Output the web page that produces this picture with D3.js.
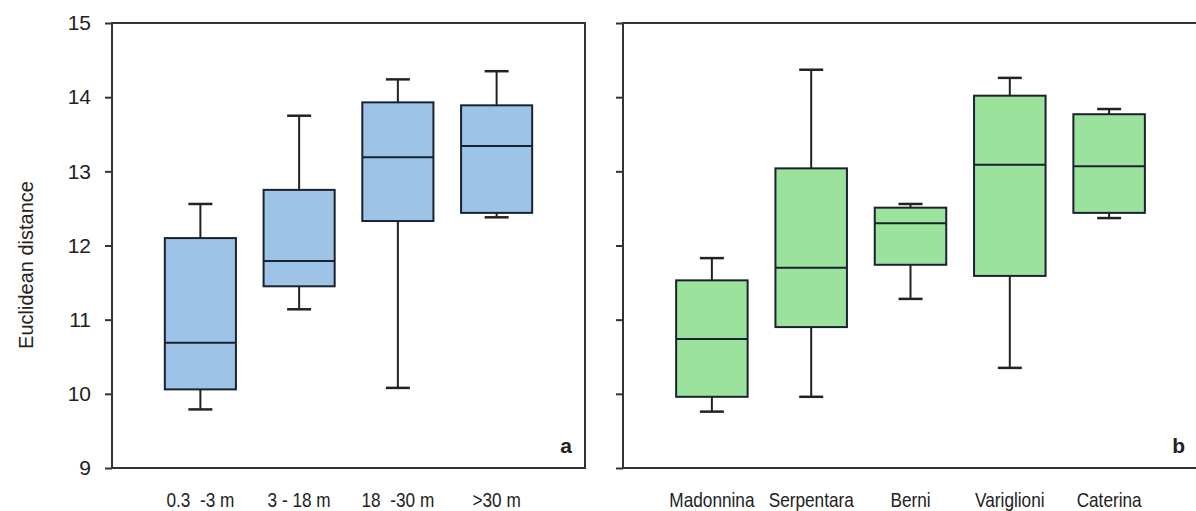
<!DOCTYPE html>
<html>
<head>
<meta charset="utf-8">
<script src="https://cdn.jsdelivr.net/npm/d3@7"></script>
<style>
  body { margin: 0; background: #fff; }
  svg { display: block; font-family: "Liberation Sans", Arial, sans-serif; }
  .cond { transform: scaleX(0.82); transform-box: fill-box; transform-origin: center; }
</style>
</head>
<body>
<svg width="1196" height="511"></svg>
<script>
// panel a: depth classes
var depthCats = ["0.3  -3 m", "3 - 18 m", "18  -30 m", ">30 m"];
var depthLow = [9.79, 11.14, 10.08, 12.38];
var depthQ1 = [10.06, 11.45, 12.33, 12.44];
var depthMed = [10.69, 11.79, 13.19, 13.34];
var depthQ3 = [12.10, 12.75, 13.93, 13.89];
var depthHigh = [12.56, 13.75, 14.24, 14.35];

// panel b: sites
var siteCats = ["Madonnina", "Serpentara", "Berni", "Variglioni", "Caterina"];
var siteLow = [9.76, 9.96, 11.28, 10.35, 12.37];
var siteQ1 = [9.96, 10.90, 11.74, 11.59, 12.44];
var siteMed = [10.74, 11.70, 12.30, 13.09, 13.07];
var siteQ3 = [11.53, 13.04, 12.51, 14.02, 13.77];
var siteHigh = [11.83, 14.37, 12.56, 14.26, 13.84];

var yTicks = [9, 10, 11, 12, 13, 14, 15];

var svg = d3.select('svg');
var plotTop = 23, plotBottom = 468;

var y = d3.scaleLinear().domain([9, 15]).range([plotBottom, plotTop]);

function panel(x0, x1, cats, low, q1, med, q3, high, fill, letter, showLabels) {
  var g = svg.append('g');
  var x = d3.scaleBand().domain(cats).range([x0, x1]).paddingInner(0.28).paddingOuter(0.535);

  var rows = cats.map(function (c, i) {
    return { cat: c, low: low[i], q1: q1[i], med: med[i], q3: q3[i], high: high[i] };
  });

  // y axis ticks
  var ya = g.append('g')
    .attr('transform', 'translate(' + x0 + ',0)')
    .call(d3.axisLeft(y).tickValues(yTicks).tickSize(7).tickPadding(14)
      .tickFormat(showLabels ? d3.format('d') : ''));
  ya.select('.domain').remove();
  ya.selectAll('line').attr('stroke', '#333').attr('stroke-width', 2);
  ya.selectAll('text').attr('font-size', 21).attr('fill', '#222');

  // x axis labels
  var xa = g.append('g')
    .attr('transform', 'translate(0,' + plotBottom + ')')
    .call(d3.axisBottom(x).tickSize(0).tickPadding(24));
  xa.select('.domain').remove();
  xa.selectAll('text').attr('font-size', 21).attr('fill', '#222')
    .attr('class', 'cond').style('white-space', 'pre');

  // frame
  g.append('path')
    .attr('d', 'M' + x0 + ',' + plotBottom + 'V' + plotTop + 'H' + x1 + 'V' + plotBottom + 'Z')
    .attr('fill', 'none').attr('stroke', '#333').attr('stroke-width', 2);

  var bw = x.bandwidth();
  var cap = 24;
  var box = g.selectAll('.box').data(rows).enter().append('g').attr('class', 'box');

  // whiskers
  box.append('line')
    .attr('x1', function (d) { return x(d.cat) + bw / 2; })
    .attr('x2', function (d) { return x(d.cat) + bw / 2; })
    .attr('y1', function (d) { return y(d.high); })
    .attr('y2', function (d) { return y(d.low); })
    .attr('stroke', '#222').attr('stroke-width', 2);
  ['high', 'low'].forEach(function (k) {
    box.append('line')
      .attr('x1', function (d) { return x(d.cat) + bw / 2 - cap / 2; })
      .attr('x2', function (d) { return x(d.cat) + bw / 2 + cap / 2; })
      .attr('y1', function (d) { return y(d[k]); })
      .attr('y2', function (d) { return y(d[k]); })
      .attr('stroke', '#222').attr('stroke-width', 2.5);
  });

  box.append('rect')
    .attr('x', function (d) { return x(d.cat); })
    .attr('width', bw)
    .attr('y', function (d) { return y(d.q3); })
    .attr('height', function (d) { return y(d.q1) - y(d.q3); })
    .attr('fill', fill).attr('stroke', '#1a2230').attr('stroke-width', 2);

  box.append('line')
    .attr('x1', function (d) { return x(d.cat); })
    .attr('x2', function (d) { return x(d.cat) + bw; })
    .attr('y1', function (d) { return y(d.med); })
    .attr('y2', function (d) { return y(d.med); })
    .attr('stroke', '#1a2230').attr('stroke-width', 2);

  g.append('text')
    .attr('x', x1 - 13).attr('y', 453)
    .attr('text-anchor', 'end')
    .attr('font-size', 21).attr('font-weight', 'bold').attr('fill', '#222')
    .text(letter);
}

panel(112, 585, depthCats, depthLow, depthQ1, depthMed, depthQ3, depthHigh, '#9dc3e6', 'a', true);
panel(623, 1198, siteCats, siteLow, siteQ1, siteMed, siteQ3, siteHigh, '#9be39d', 'b', false);

svg.append('text')
  .attr('transform', 'translate(33,265) rotate(-90)')
  .attr('text-anchor', 'middle')
  .attr('font-size', 20).attr('fill', '#222')
  .text('Euclidean distance');
</script>
</body>
</html>
